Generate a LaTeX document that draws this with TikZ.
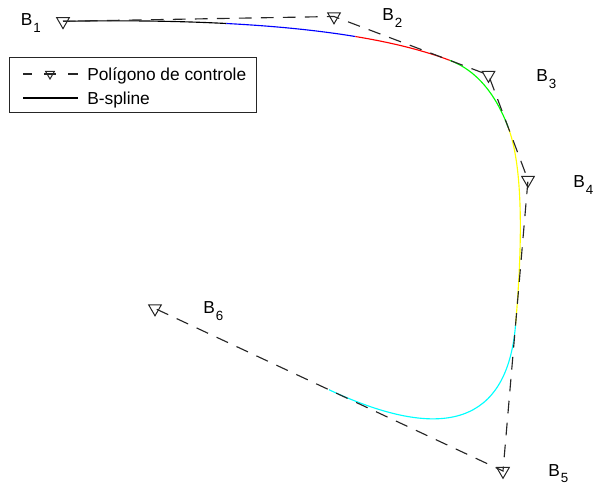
\documentclass[tikz,border=0pt]{standalone}
\usepackage{fontspec}
\setmainfont{Liberation Sans}
\usetikzlibrary{calc,shapes.geometric}
\definecolor{mblack}{RGB}{0,0,0}
\definecolor{mblue}{RGB}{0,0,255}
\definecolor{mred}{RGB}{255,0,0}
\definecolor{mgreen}{RGB}{0,255,0}
\definecolor{myellow}{RGB}{255,255,0}
\definecolor{mcyan}{RGB}{0,255,255}
\definecolor{mgray}{RGB}{38,38,38}
\tikzset{
  poly/.style={draw=mgray, line width=0.85pt, dash pattern=on 9.5pt off 7pt},
  legdash/.style={draw=mgray, line width=0.85pt},
  spl/.style={line width=0.85pt},
  marker/.style={draw=mgray, line width=0.75pt, regular polygon, regular polygon sides=3,
    shape border rotate=180, inner sep=0pt, minimum size=11pt},
  lmarker/.style={marker, minimum size=7.5pt},
  lbl/.style={anchor=base west, inner sep=0pt, font=\fontsize{13}{15}\selectfont},
  legtext/.style={anchor=base west, inner sep=0pt, font=\fontsize{13}{15}\selectfont},
  legbox/.style={draw=mgray, line width=0.6pt}
}
\newcommand\Bsub[1]{B\kern0.8pt\raisebox{-5pt}{\fontsize{10}{10}\selectfont #1}}
\newcommand\qseg[4]{\draw[spl,#1] (#2) .. controls ($(#2)!0.666667!(#3)$) and ($(#4)!0.666667!(#3)$) .. (#4);}
\begin{document}
\begin{tikzpicture}[x=0.75pt, y=-0.75pt]
\useasboundingbox (0,0) rectangle (596,491);
% control points
\coordinate (B1) at (63,21.3);
\coordinate (B2) at (334,16.5);
\coordinate (B3) at (488.5,75);
\coordinate (B4) at (528,180);
\coordinate (B5) at (503,471);
\coordinate (B6) at (155,308.5);
% knot points of the quadratic B-spline
\coordinate (K3) at ($(B2)!0.75!(B3)$);
\coordinate (K4) at ($(B3)!0.5!(B4)$);
\coordinate (K5) at ($(B4)!0.5!(B5)$);
\coordinate (K6) at ($(B5)!0.5!(B6)$);
\coordinate (K1) at ($0.444444*(B1)+0.444444*(B2)+0.111111*(K3)$);
\coordinate (K2) at ($0.111111*(B1)+0.444444*(B2)+0.444444*(K3)$);
\coordinate (Q1) at ($(B1)!0.333333!(B2)$);
\coordinate (Q2) at ($0.222222*(B1)+0.555556*(B2)+0.222222*(K3)$);
\coordinate (Q3) at ($(B2)!0.666667!(K3)$);
% spline
\qseg{mblack}{B1}{Q1}{K1}
\qseg{mblue}{K1}{Q2}{K2}
\qseg{mred}{K2}{Q3}{K3}
\qseg{mgreen}{K3}{B3}{K4}
\qseg{myellow}{K4}{B4}{K5}
\qseg{mcyan}{K5}{B5}{K6}
% control polygon
\draw[poly] (B1) -- (B2) -- (B3) -- (B4) -- (B5) -- (B6);
\foreach \i in {1,...,6} \node[marker] (m\i) at (B\i) {};
% labels
\node[lbl] (l1) at (20.5,26) {\Bsub{1}};
\node[lbl] (l2) at (382,21) {\Bsub{2}};
\node[lbl] (l3) at (536,82) {\Bsub{3}};
\node[lbl] (l4) at (573,188) {\Bsub{4}};
\node[lbl] (l5) at (548,476) {\Bsub{5}};
\node[lbl] (l6) at (203,314) {\Bsub{6}};
% legend
\draw[legbox] (9,57) rectangle (256,112);
\coordinate (a1) at (23,74); \coordinate (a2) at (32,74);
\coordinate (a3) at (44,74); \coordinate (a4) at (56,74);
\coordinate (a5) at (68,74); \coordinate (a6) at (78,74);
\draw[legdash] (a1) -- (a2) (a3) -- (a4) (a5) -- (a6);
\node[lmarker] (lm) at (50,74) {};
\coordinate (s1) at (23,98); \coordinate (s2) at (78,98);
\draw[spl,mblack] (s1) -- (s2);
\node[legtext] (t1) at (87,80.5) {Polígono de controle};
\node[legtext] (t2) at (87,104.5) {B-spline};
\end{tikzpicture}
\end{document}
